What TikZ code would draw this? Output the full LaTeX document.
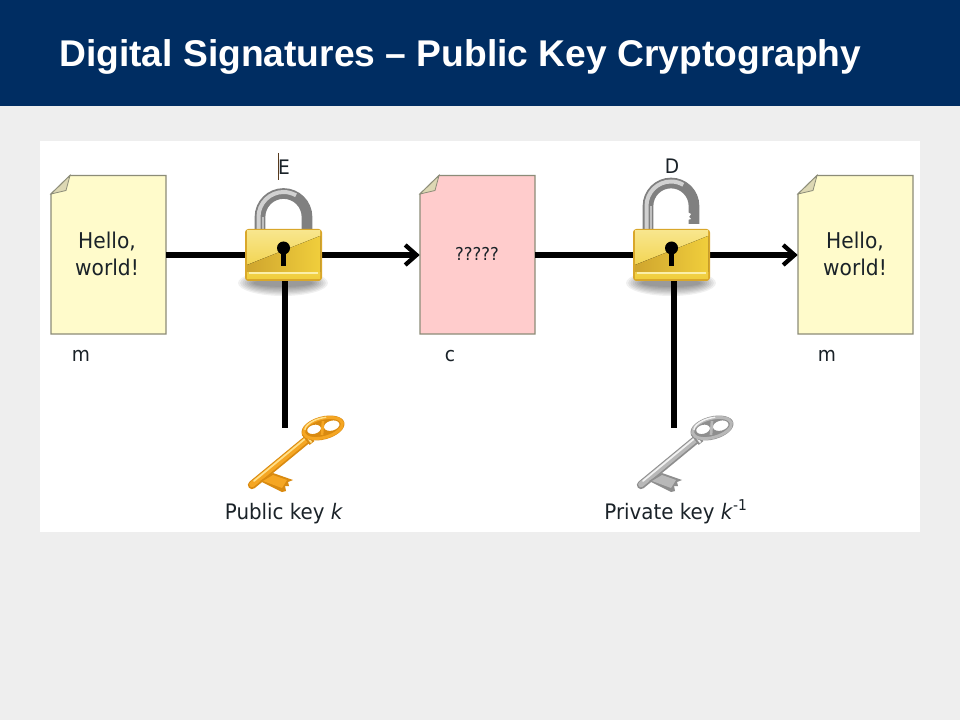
\documentclass[tikz,border=0pt]{standalone}
\usepackage{fontspec}
\setmainfont{DejaVu Sans}[FakeStretch=0.93]
\newfontfamily\titlefont{Liberation Sans}
\usetikzlibrary{arrows.meta}
\definecolor{headblue}{HTML}{002D62}
\definecolor{pagegray}{HTML}{EEEEEE}
\definecolor{docyellow}{HTML}{FFFBCB}
\definecolor{docpink}{HTML}{FFCCCC}
\definecolor{docedge}{HTML}{8C8C78}
\definecolor{foldtan}{HTML}{DDD8B4}
\definecolor{inktext}{HTML}{1A2228}
\definecolor{goldedge}{HTML}{D9A72A}
\definecolor{goldpale}{HTML}{F8E68C}
\definecolor{goldmid}{HTML}{F0CE3C}
\definecolor{golddark}{HTML}{CFA52E}
\definecolor{goldline}{HTML}{FBEFA8}
\definecolor{orangedark}{HTML}{D98A10}
\definecolor{orangemid}{HTML}{F5A623}
\definecolor{orangelight}{HTML}{FFE08A}
\definecolor{silverdark}{HTML}{8E8E8E}
\definecolor{silvermid}{HTML}{B8B8B8}
\definecolor{silverlight}{HTML}{F2F2F2}
\tikzset{
  x=0.75pt,y=-0.75pt,
  titletext/.style={font=\titlefont\bfseries\fontsize{27.9pt}{32pt}\selectfont,text=white,anchor=west,inner sep=0pt},
  doclabel/.style={font=\fontsize{16.3pt}{20.3pt}\selectfont,text=inktext,align=center,inner sep=0pt},
  smalltext/.style={font=\fontsize{16pt}{19pt}\selectfont,text=inktext,inner sep=0pt,anchor=base},
  marktext/.style={font=\fontsize{15pt}{18pt}\selectfont,text=inktext,inner sep=0pt},
  cipherstyle/.style={font=\fontsize{13.3pt}{16pt}\selectfont,text=inktext,inner sep=0pt},
  docbox/.style={draw=none,minimum width=86.25pt,minimum height=119.25pt,inner sep=0pt},
  conn/.style={line width=4pt,draw=black},
  arrowconn/.style={conn,-{Straight Barb[length=8.5pt,width=15pt,line width=3.2pt]}},
}
\newcommand{\sheet}[2]{%
  \draw[docedge,line width=0.9pt,fill=#2] (#1,194) -- (#1+19,175.5) -- (#1+115,175.5) -- (#1+115,334) -- (#1,334) -- cycle;
  \draw[docedge,line width=0.6pt,fill=foldtan] (#1,194) -- (#1+19,175.5) -- (#1+15,190.5) -- cycle;
}
\newcommand{\padbody}[1]{%
  \foreach \r in {0,...,7}{%
    \fill[black,opacity=0.06] (#1+38,283) ellipse [x radius=45-2.2*\r,y radius=13-1.3*\r];
  }%
  \fill[goldedge,rounded corners=2.5pt] (#1,229) rectangle (#1+77,281);
  \fill[top color=goldpale,bottom color=goldmid] (#1+2,231) rectangle (#1+75,279);
  \fill[left color=golddark,right color=goldmid] (#1+2,272) -- (#1+2,265) -- (#1+75,236) -- (#1+75,272) -- cycle;
  \fill[goldline] (#1+4,272) rectangle (#1+73,274.5);
  \fill[black] (#1+38.5,248) circle [radius=6.5];
  \fill[black] (#1+36,248) rectangle (#1+41,266.5);
}
% key: #1,#2 position; #3 dark; #4 mid; #5 light
\newcommand{\drawkey}[5]{%
  \begin{scope}[shift={(#1,#2)}]
    \draw[#3,line width=6.2pt,line cap=round] (-33,65) -- (24,18);
    \draw[#4,line width=4.2pt,line cap=round] (-33,64.5) -- (24,17.5);
    \draw[#5,line width=1.3pt,line cap=round] (-31,61) -- (21,18);
    \fill[#3] (-25,61) -- (-12,53) -- (8,60) -- (3,62) -- (4,66) -- (0,66) -- (1,71) -- (-3,72) -- cycle;
    \fill[#4] (-22,61) -- (-12,55) -- (2,60) -- (-3,68) -- cycle;
    \draw[#3,line width=4.4pt] (19,13) -- (27,23);
    \draw[#5,line width=1.4pt] (19.5,13.5) -- (26.5,22.5);
    \fill[#3,even odd rule,rotate around={15:(38,8)}]
      (38,8) ellipse [x radius=22,y radius=11.5]
      (29,7) ellipse [x radius=7,y radius=4.5]
      (47,8) ellipse [x radius=8,y radius=5];
    \draw[#4,line width=2.2pt,rotate around={15:(38,8)}] (38,8) ellipse [x radius=20,y radius=9.5];
    \draw[#5,line width=1.1pt,rotate around={15:(38,8)}] (20,5) arc [start angle=190,end angle=290,x radius=18,y radius=8.5];
    \draw[#4,line width=2pt] (38,1) -- (37,15);
  \end{scope}
}
\begin{document}
\begin{tikzpicture}
\useasboundingbox (0,0) rectangle (960,720);
\fill[pagegray] (0,0) rectangle (960,720);
\fill[headblue] (0,0) rectangle (960,106);
\node[titletext] (title) at (59,57) {Digital Signatures – Public Key Cryptography};
\fill[white] (40,141) rectangle (920,532);

\sheet{51}{docyellow}
\sheet{420}{docpink}
\sheet{798}{docyellow}
\node[docbox] (m1) at (108.5,255) {};
\node[docbox] (c1) at (477.5,255) {};
\node[docbox] (m2) at (855.5,255) {};
\node[doclabel] (hello1) at (107,254) {Hello,\\world!};
\node[doclabel] (hello2) at (855,254) {Hello,\\world!};
\node[cipherstyle] (cipher) at (477,254) {?????};

\coordinate (lockE) at (285,255);
\coordinate (lockD) at (674,255);
\coordinate (keyE) at (285,428);
\coordinate (keyD) at (674,428);

\draw[conn] (m1.east) -- (lockE);
\draw[arrowconn] (lockE) -- (c1.west);
\draw[conn] (c1.east) -- (lockD);
\draw[arrowconn] (lockD) -- (m2.west);
\draw[conn] (lockE) -- (keyE);
\draw[conn] (lockD) -- (keyD);

% closed shackle
\draw[black!50,line width=8pt] (260,230) -- (260,217) arc [start angle=180,end angle=360,radius=23.5] -- (307,230);
\draw[black!18,line width=3pt] (258.5,230) -- (258.5,217) arc [start angle=180,end angle=300,radius=25];
\draw[black!25,line width=2pt] (263,230) -- (263,217);
\padbody{245}
% open shackle
\draw[black!50,line width=8pt] (648,230) -- (648,206) arc [start angle=180,end angle=360,radius=23] -- (694,224);
\draw[black!18,line width=3pt] (646.5,230) -- (646.5,206) arc [start angle=180,end angle=300,radius=24.5];
\draw[black!25,line width=2pt] (651,230) -- (651,206);
\fill[white] (687,212) -- (691,214) -- (689,217) -- (691,219) -- (687,220) -- cycle;
\padbody{633}

\drawkey{285}{420}{orangedark}{orangemid}{orangelight}
\drawkey{674}{420}{silverdark}{silvermid}{silverlight}

\node[marktext] (eLabel) at (284,167) {E};
\node[marktext] (dLabel) at (672,166) {D};
\draw[black!55!brown,line width=0.6pt] (278,153) -- (278,180);
\node[marktext] (mA) at (81,356) {m};
\node[marktext] (cA) at (450,356) {c};
\node[marktext] (mB) at (827,356) {m};
\node[smalltext] (pub) at (284,519) {Public key \textit{k}};
\node[smalltext] (priv) at (676,519) {Private key \textit{k}\textsuperscript{-1}};
\end{tikzpicture}
\end{document}
